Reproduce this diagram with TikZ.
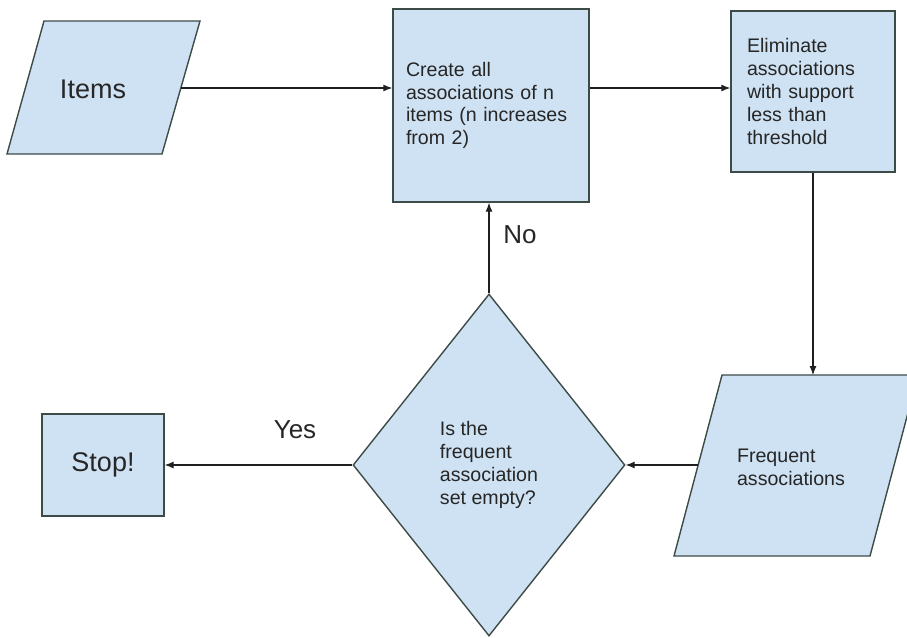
\documentclass[tikz,border=0pt]{standalone}
\usepackage{fontspec}
\setmainfont{Liberation Sans}
\usetikzlibrary{shapes.geometric,arrows.meta}
\definecolor{boxfill}{HTML}{CFE2F3}
\definecolor{boxline}{HTML}{3D4B47}
\definecolor{txt}{HTML}{262626}
\definecolor{arrline}{HTML}{1F1F1F}
\tikzset{
  shapebase/.style={draw=boxline, fill=boxfill, line width=1.4pt, text=txt, inner sep=0pt},
  bigtext/.style={font=\fontsize{27}{31}\selectfont},
  smalltext/.style={font=\fontsize{19.6}{22.8}\selectfont},
  procbox/.style={shapebase, rectangle, smalltext, align=left},
  ioshape/.style={draw=boxline, fill=boxfill, line width=1.4pt, line join=miter},
  iotext/.style={text=txt, inner sep=0pt, align=left},
  decbox/.style={shapebase, diamond, smalltext, align=left},
  arr/.style={draw=arrline, line width=1.1pt, -{Latex[length=9pt,width=7pt]}},
  lbl/.style={text=txt, font=\fontsize{26}{30}\selectfont, inner sep=0pt}
}
\begin{document}
\begin{tikzpicture}[x=1pt,y=-1pt]
\useasboundingbox (0,0) rectangle (907,637);
% Items (input parallelogram)
\draw[ioshape] (44,21) -- (200,21) -- (162,154) -- (7,154) -- cycle;
\node[iotext, bigtext] (items) at (93,89) {Items};
\coordinate (itemsout) at (181,88);
% process boxes
\node[procbox, minimum width=196pt, minimum height=193pt, text width=170pt, inner xsep=13pt]
  (create) at (491,105.5) {Create all\\associations of n\\items (n increases\\from 2)};
\node[procbox, minimum width=164pt, minimum height=161pt, text width=132pt, inner xsep=16pt]
  (elim) at (813,91.5) {Eliminate\\associations\\with support\\less than\\threshold};
% Frequent associations (parallelogram)
\draw[ioshape] (722,375) -- (918,375) -- (870,556) -- (674,556) -- cycle;
\node[iotext, smalltext] (freq) at (791,467) {Frequent\\associations};
\coordinate (freqin) at (813,375);
\coordinate (freqout) at (698,465);
% decision and stop
\node[decbox, minimum width=272pt, minimum height=342pt] (dec) at (489,465) {Is the\\frequent\\association\\set empty?};
\node[procbox, bigtext, align=center, minimum width=122pt, minimum height=102pt] (stop) at (103,465) {Stop!};
% connectors
\draw[arr] (itemsout) -- (itemsout -| create.west);
\draw[arr] (itemsout -| create.east) -- (itemsout -| elim.west);
\draw[arr] (elim.south) -- (freqin);
\draw[arr] (freqout) -- (dec.east);
\draw[arr] (dec.west) -- (stop.east);
\draw[arr] (dec.north) -- (dec.north |- create.south);
\node[lbl] (nolbl) at (520,235) {No};
\node[lbl] (yeslbl) at (295,430) {Yes};
\end{tikzpicture}
\end{document}
